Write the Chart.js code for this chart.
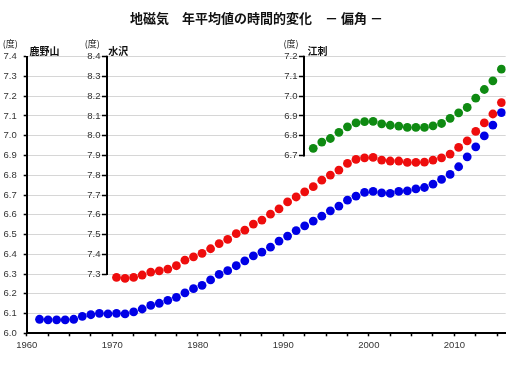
<!DOCTYPE html>
<html>
<head>
<meta charset="utf-8">
<script src="https://cdn.jsdelivr.net/npm/chart.js@4"></script>
<style>
html,body{margin:0;padding:0;background:#fff;}
canvas{display:block;}
</style>
</head>
<body>
<canvas id="c" width="518" height="374"></canvas>
<script>
// ---- data ----
const titleText = '地磁気　年平均値の時間的変化　－ 偏角 －';
const unitLabel = '(度)';
const stationNames = ['鹿野山', '水沢', '江刺'];

const kanozanStart = 1961;
const kanozan = [6.071,6.068,6.068,6.068,6.071,6.086,6.094,6.101,6.098,6.101,
  6.098,6.108,6.123,6.141,6.152,6.167,6.182,6.205,6.226,6.243,
  6.270,6.298,6.317,6.342,6.367,6.392,6.411,6.436,6.467,6.492,
  6.520,6.544,6.568,6.593,6.620,6.644,6.674,6.694,6.713,6.718,
  6.711,6.708,6.718,6.721,6.731,6.738,6.755,6.779,6.804,6.843,
  6.893,6.944,6.999,7.054,7.117];

const mizusawaStart = 1970;
const mizusawa = [7.283,7.278,7.283,7.295,7.310,7.316,7.325,7.342,7.370,7.387,
  7.405,7.428,7.454,7.475,7.504,7.522,7.553,7.573,7.603,7.630,
  7.665,7.690,7.716,7.742,7.775,7.801,7.826,7.860,7.880,7.888,
  7.890,7.877,7.872,7.872,7.865,7.865,7.866,7.877,7.888,7.907,
  7.941,7.974,8.022,8.065,8.110,8.168];

const esashiStart = 1993;
const esashi = [6.736,6.768,6.786,6.817,6.845,6.865,6.871,6.873,6.860,6.853,
  6.849,6.842,6.842,6.842,6.850,6.862,6.888,6.916,6.943,6.990,
  7.034,7.078,7.137];

const xTicks = [1960,1962.5,1965,1967.5,1970,1972.5,1975,1977.5,1980,1982.5,1985,1987.5,
  1990,1992.5,1995,1997.5,2000,2002.5,2005,2007.5,2010,2012.5,2015];
const xLabels = [1960,1970,1980,1990,2000,2010];
const kanozanTicks = [6.0,6.1,6.2,6.3,6.4,6.5,6.6,6.7,6.8,6.9,7.0,7.1,7.2,7.3,7.4];
const mizusawaTicks = [7.3,7.4,7.5,7.6,7.7,7.8,7.9,8.0,8.1,8.2,8.3,8.4];
const esashiTicks = [6.7,6.8,6.9,7.0,7.1,7.2];

// ---- helpers ----
function toPoints(start, vals){ return vals.map((v,i)=>({x:start+i+0.5, y:v})); }
const fontFamily = "'Liberation Sans Narrow','Arial Narrow','Liberation Sans',Arial,sans-serif";
const tickFont = {family:fontFamily, size:9.5};
const tickColor = '#333';
const axisPos = {y2: 1969.33, y3: 1992.4};

const sideAxisPlugin = {
  id:'sideAxis',
  afterDraw(chart){
    const ctx = chart.ctx, xs = chart.scales.x;
    const defs = [
      {id:'y', xv:1960, min:7.4, max:6.0, name:stationNames[0], unitRight:-9.2, nameOff:2.6},
      {id:'y2', xv:axisPos.y2, min:8.4, max:7.3, name:stationNames[1], unitRight:-7.2, nameOff:1.2},
      {id:'y3', xv:axisPos.y3, min:7.2, max:6.7, name:stationNames[2], unitRight:-5.5, nameOff:3.5}
    ];
    ctx.save();
    defs.forEach(d=>{
      const s = chart.scales[d.id];
      const px = Math.round(xs.getPixelForValue(d.xv));
      const yTop = s.getPixelForValue(d.min);
      const yBot = s.getPixelForValue(d.max);
      if(d.id!=='y'){
        ctx.strokeStyle='#000'; ctx.lineWidth=2;
        ctx.beginPath(); ctx.moveTo(px, yTop-1); ctx.lineTo(px, yBot+1); ctx.stroke();
        // tick labels of the floating axis
        ctx.font = tickFont.size + 'px ' + fontFamily;
        ctx.fillStyle = tickColor;
        ctx.textAlign='right';
        ctx.textBaseline='middle';
        s.ticks.forEach(t=>{
          ctx.fillText(Number(t.value).toFixed(1), px - 6.5, s.getPixelForValue(t.value));
        });
      }
      ctx.fillStyle='#222';
      ctx.textBaseline='middle';
      ctx.font="9px 'Noto Sans CJK JP', sans-serif";
      ctx.textAlign='right';
      ctx.fillText(unitLabel, px + d.unitRight, yTop - 13.5);
      ctx.font="bold 10px 'Noto Sans CJK JP', sans-serif";
      ctx.textAlign='left';
      ctx.fillStyle='#111';
      ctx.fillText(d.name, px + d.nameOff, yTop - 5.5);
    });
    ctx.restore();
  }
};

function sideScale(min, max, ticks, xv){
  return {
    type:'linear', axis:'y', min:min, max:max,
    position:{x:xv},
    afterBuildTicks(scale){ scale.ticks = ticks.map(v=>({value:v})); },
    grid:{drawOnChartArea:false, drawTicks:true, tickLength:5, tickColor:'#000', tickWidth:1.5},
    border:{display:false},
    ticks:{display:false}
  };
}

new Chart(document.getElementById('c'), {
  type:'scatter',
  data:{
    datasets:[
      {label:stationNames[2], data:toPoints(esashiStart, esashi), yAxisID:'y3',
       pointRadius:4.4, pointBackgroundColor:'#0f8a12', pointBorderWidth:0, showLine:false},
      {label:stationNames[1], data:toPoints(mizusawaStart, mizusawa), yAxisID:'y2',
       pointRadius:4.4, pointBackgroundColor:'#ee0d0d', pointBorderWidth:0, showLine:false},
      {label:stationNames[0], data:toPoints(kanozanStart, kanozan), yAxisID:'y',
       pointRadius:4.4, pointBackgroundColor:'#0000e6', pointBorderWidth:0, showLine:false}
    ]
  },
  options:{
    responsive:false, animation:false, events:[],
    layout:{padding:{left:0, right:5, top:0, bottom:0}},
    plugins:{
      legend:{display:false}, tooltip:{enabled:false},
      title:{display:true, text:titleText, color:'#111',
        font:{family:"'Noto Sans CJK JP', sans-serif", size:13, weight:'bold'},
        padding:{top:10.2, bottom:30.9}}
    },
    scales:{
      x:{type:'linear', min:1960, max:2016, position:'bottom',
        afterBuildTicks(scale){ scale.ticks = xTicks.map(v=>({value:v})); },
        afterFit(scale){ scale.height = 40.7; },
        grid:{drawOnChartArea:false, drawTicks:true, tickLength:3, tickColor:'#000', tickWidth:1.5},
        border:{display:true, color:'#000', width:2},
        ticks:{font:tickFont, color:tickColor, padding:3, autoSkip:false, maxRotation:0,
          callback:v=> xLabels.includes(v) ? String(v) : ''}
      },
      y:{type:'linear', min:6.0, max:7.4, position:'left',
        afterBuildTicks(scale){ scale.ticks = kanozanTicks.map(v=>({value:v})); },
        afterFit(scale){ scale.width = 26.7; },
        grid:{color:'#d6d6d6', lineWidth:1, drawTicks:true, tickLength:3, tickColor:'#000', tickWidth:1.5},
        border:{display:true, color:'#000', width:2},
        ticks:{font:tickFont, color:tickColor, padding:7, callback:v=>Number(v).toFixed(1)}
      },
      y2: sideScale(7.0, 8.4, mizusawaTicks, axisPos.y2),
      y3: sideScale(5.8, 7.2, esashiTicks, axisPos.y3),
      // empty right-hand margin scale (keeps plot area right edge while centring title on page)
      yMargin:{type:'linear', axis:'y', position:'right', min:6.0, max:7.4,
        grid:{display:false}, border:{display:false}, ticks:{display:false},
        afterFit(scale){ scale.width = 7.3; }}
    }
  },
  plugins:[sideAxisPlugin]
});
</script>
</body>
</html>
